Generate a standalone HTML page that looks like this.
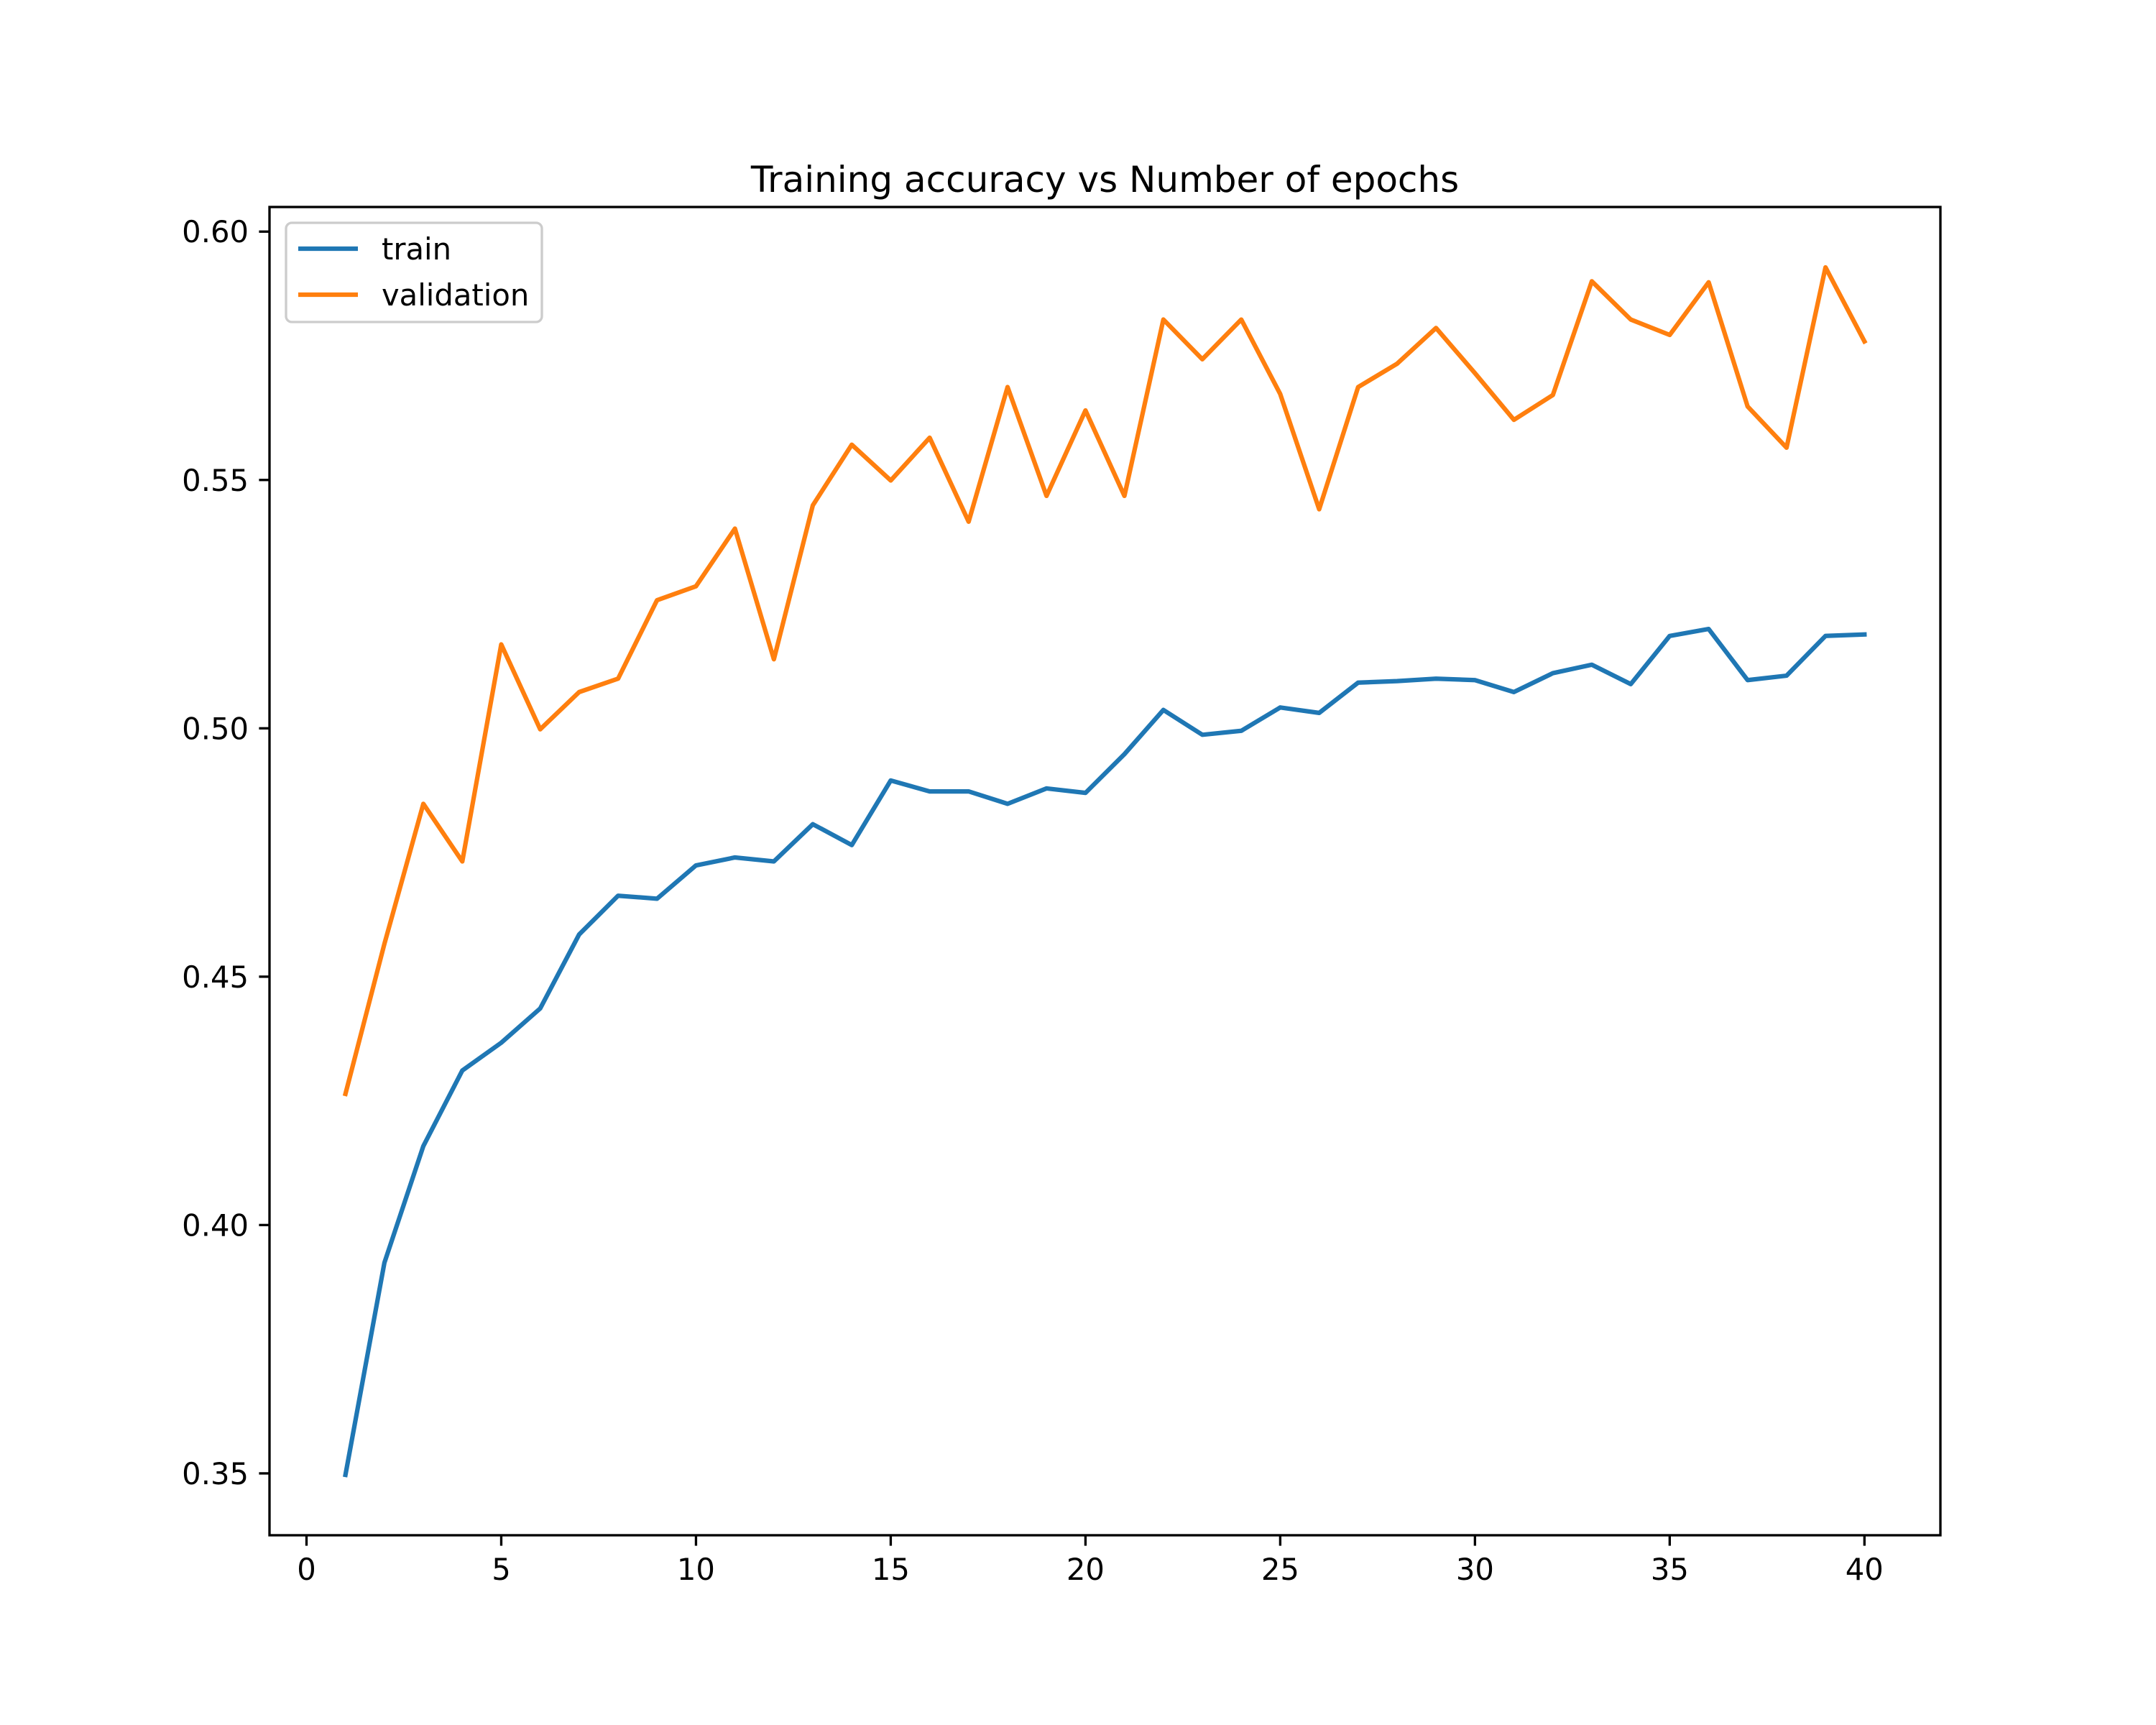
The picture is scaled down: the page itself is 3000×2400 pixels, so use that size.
<!DOCTYPE html>
<html><head><meta charset="utf-8"><style>html,body{margin:0;padding:0;background:#fff}svg{display:block}text{font-family:"DejaVu Sans","Liberation Sans",sans-serif}</style></head>
<body>
<svg id="chart" width="3000" height="2400" viewBox="0 0 3000 2400" xmlns="http://www.w3.org/2000/svg">
<rect width="3000" height="2400" fill="#fff"/>
<g id="plot"></g>
</svg>
<script>
const epochs=[1,2,3,4,5,6,7,8,9,10,11,12,13,14,15,16,17,18,19,20,21,22,23,24,25,26,27,28,29,30,31,32,33,34,35,36,37,38,39,40];
const trainAcc=[0.3497,0.3924,0.4159,0.4311,0.4367,0.4436,0.4585,0.4663,0.4657,0.4724,0.4740,0.4732,0.4807,0.4765,0.4895,0.4873,0.4873,0.4848,0.4879,0.4870,0.4948,0.5037,0.4987,0.4995,0.5042,0.5031,0.5092,0.5095,0.5100,0.5097,0.5073,0.5111,0.5128,0.5089,0.5186,0.5200,0.5097,0.5106,0.5186,0.5189];
const valAcc=[0.4264,0.4566,0.4848,0.4732,0.5169,0.4998,0.5073,0.5100,0.5258,0.5286,0.5402,0.5139,0.5449,0.5571,0.5499,0.5585,0.5416,0.5687,0.5468,0.5640,0.5468,0.5823,0.5743,0.5823,0.5673,0.5441,0.5687,0.5734,0.5806,0.5715,0.5621,0.5671,0.5900,0.5823,0.5792,0.5898,0.5648,0.5565,0.5928,0.5779];
const xTicks=[0,5,10,15,20,25,30,35,40];
const yTicks=[0.35,0.40,0.45,0.50,0.55,0.60];
const ns="http://www.w3.org/2000/svg";
const L=375,R=2700,T=288,B=2136;
const xmin=Math.min(...epochs),xmax=Math.max(...epochs),xm=(xmax-xmin)*0.05;
const all=trainAcc.concat(valAcc);const ymn=Math.min(...all),ymx=Math.max(...all),ym=(ymx-ymn)*0.05;
const x=v=>L+(v-(xmin-xm))/((xmax+xm)-(xmin-xm))*(R-L);
const y=v=>B-(v-(ymn-ym))/((ymx+ym)-(ymn-ym))*(B-T);
const g=document.getElementById('plot');
function mk(tag,attrs,parent){const e=document.createElementNS(ns,tag);for(const k in attrs)e.setAttribute(k,attrs[k]);(parent||g).appendChild(e);return e;}
function series(data,color,name){
 const p=mk('polyline',{points:data.map((v,i)=>x(epochs[i])+','+y(v)).join(' '),fill:'none',stroke:color,'stroke-width':6.25,'stroke-linejoin':'round','stroke-linecap':'square'});
 
 
}
series(trainAcc,'#1f77b4','train-line');
series(valAcc,'#ff7f0e','validation-line');
const frame=mk('rect',{x:L,y:T,width:R-L,height:B-T,fill:'none',stroke:'#000','stroke-width':3.33});


xTicks.forEach(t=>{
 const l=mk('line',{x1:x(t),x2:x(t),y1:B,y2:B+14.6,stroke:'#000','stroke-width':3.33});
 
 
 const tx=mk('text',{x:x(t),y:B+62,'font-size':41.7,'text-anchor':'middle'});tx.textContent=t;
 
 
});
yTicks.forEach(t=>{
 const l=mk('line',{x1:L-14.6,x2:L,y1:y(t),y2:y(t),stroke:'#000','stroke-width':3.33});
 
 
 const tx=mk('text',{x:L-29,y:y(t)+15,'font-size':41.7,'text-anchor':'end'});tx.textContent=t.toFixed(2);
 
 
});
const title=mk('text',{x:(L+R)/2,y:T-21,'font-size':50,'text-anchor':'middle'});title.textContent='Training accuracy vs Number of epochs';


const lg=mk('g',{});


mk('rect',{x:398,y:310,width:356,height:138,rx:8,fill:'#fff','fill-opacity':0.8,stroke:'#ccc','stroke-width':3.33},lg);
[['train','#1f77b4',346],['validation','#ff7f0e',410]].forEach(([n,c,yy])=>{
 const e=mk('g',{},lg);
 
 
 mk('line',{x1:415,x2:498,y1:yy,y2:yy,stroke:c,'stroke-width':6.25},e);
 const t=mk('text',{x:531,y:yy+15,'font-size':41.7},e);t.textContent=n;
});
</script>
</body></html>
